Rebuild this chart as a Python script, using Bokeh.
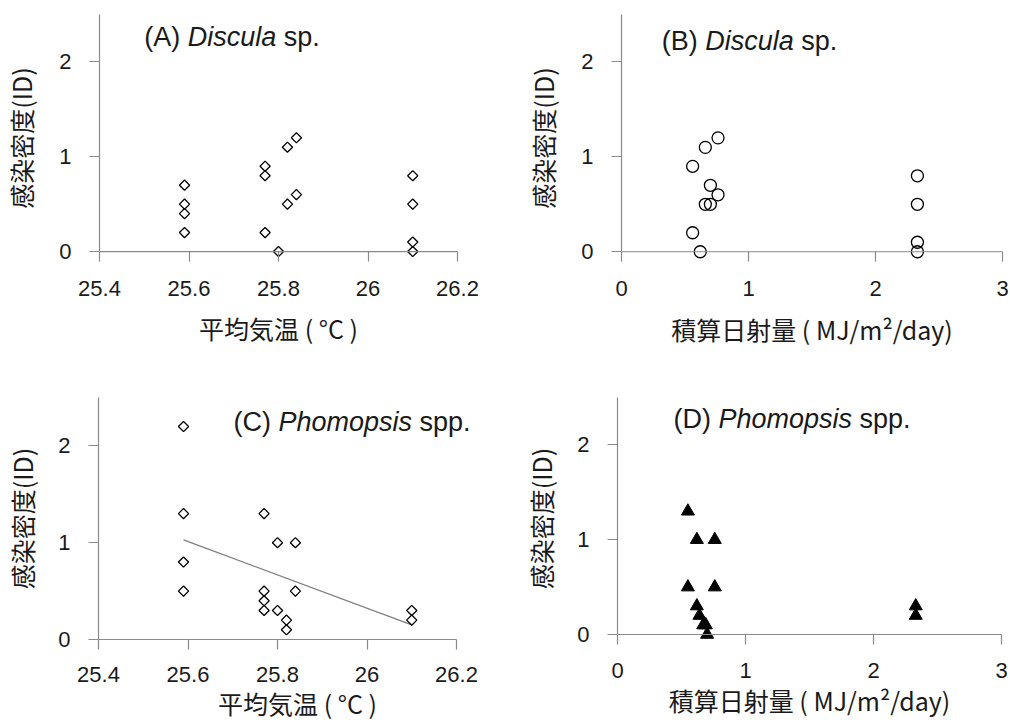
from bokeh.plotting import figure
from bokeh.layouts import row, column
from bokeh.models import Label, FixedTicker, NumeralTickFormatter, Range1d, Span
from bokeh.embed import file_html
from bokeh.resources import INLINE
import math

# ---------------- data ----------------
temp_ticks = [25.4, 25.6, 25.8, 26.0, 26.2]
rad_ticks = [0, 1, 2, 3]
id_ticks = [0, 1, 2]

# (A) Discula sp. vs mean temperature
temp_A = [25.59, 25.59, 25.59, 25.59, 25.77, 25.77, 25.77, 25.80,
          25.82, 25.82, 25.84, 25.84, 26.10, 26.10, 26.10, 26.10]
id_A = [0.7, 0.5, 0.4, 0.2, 0.9, 0.8, 0.2, 0.0,
        1.1, 0.5, 1.2, 0.6, 0.8, 0.5, 0.1, 0.0]

# (B) Discula sp. vs integrated solar radiation
rad_B = [0.56, 0.56, 0.62, 0.66, 0.66, 0.70, 0.70, 0.76, 0.76,
         2.33, 2.33, 2.33, 2.33]
id_B = [0.9, 0.2, 0.0, 1.1, 0.5, 0.7, 0.5, 1.2, 0.6,
        0.8, 0.5, 0.1, 0.0]

# (C) Phomopsis spp. vs mean temperature
temp_C = [25.59, 25.59, 25.59, 25.59, 25.77, 25.77, 25.77, 25.77,
          25.80, 25.80, 25.82, 25.82, 25.84, 25.84, 26.10, 26.10]
id_C = [2.2, 1.3, 0.8, 0.5, 1.3, 0.5, 0.4, 0.3,
        1.0, 0.3, 0.2, 0.1, 1.0, 0.5, 0.3, 0.2]
trend_C_x = [25.59, 26.10]
trend_C_y = [1.03, 0.15]

# (D) Phomopsis spp. vs integrated solar radiation
rad_D = [0.55, 0.62, 0.76, 0.55, 0.76, 0.62, 0.64, 0.67, 0.69, 0.70,
         2.33, 2.33]
id_D = [1.3, 1.0, 1.0, 0.5, 0.5, 0.3, 0.2, 0.1, 0.1, 0.0,
        0.3, 0.2]

y_label = "感染密度(ID)"
x_label_temp = "平均気温 ( °C )"
x_label_rad = "積算日射量 ( MJ/m²/day)"

# ---------------- styling helpers ----------------
AXIS_GREY = "#8a8a8a"
TEXT = "#1a1a1a"
TICK_FONT = "Liberation Sans"
LABEL_FONT = "Noto Sans CJK JP"
TICK_LEN = 10

# Arial / Liberation Sans advance widths (em) for title pieces
ADV = {"(": 0.333, ")": 0.333, " ": 0.278, "A": 0.667, "B": 0.667, "C": 0.722,
       "D": 0.722, "P": 0.667, "i": 0.222, "s": 0.5, "c": 0.5, "u": 0.556,
       "l": 0.222, "a": 0.556, "p": 0.556, ".": 0.278, "h": 0.556, "o": 0.556,
       "m": 0.833}


def text_w(t, size):
    return sum(ADV.get(ch, 0.556) for ch in t) * size


def make_fig(w, h, left, frame_w, top, frame_h, xr, axis_frame_w, yr,
             xticks, xlab, xfmt, tick_so_x, lab_so_x, lab_so_y, pad_px=0):
    # axis spans axis_frame_w x frame_h pixels; the plotting frame may be a
    # bit larger (wider to the right, pad_px below zero) so that titles and
    # markers sitting on the zero line are not clipped
    x0, x1 = xr
    y0, y1 = yr
    x_end = x0 + (x1 - x0) * frame_w / axis_frame_w
    y_start = y0 - (y1 - y0) * pad_px / frame_h
    p = figure(width=w, height=h, x_range=Range1d(x0, x_end),
               y_range=Range1d(y_start, y1),
               output_backend="svg", toolbar_location=None,
               min_border_left=left, min_border_right=w - left - frame_w,
               min_border_top=top,
               min_border_bottom=h - top - frame_h - pad_px)
    p.outline_line_color = None
    p.background_fill_color = "white"
    p.border_fill_color = "white"
    p.xgrid.visible = False
    p.ygrid.visible = False
    for ax in (p.xaxis[0], p.yaxis[0]):
        ax.axis_line_color = AXIS_GREY
        ax.axis_line_width = 1.2
        ax.major_tick_line_color = AXIS_GREY
        ax.major_tick_line_width = 1.2
        ax.major_tick_out = TICK_LEN
        ax.major_tick_in = 0
        ax.minor_tick_line_color = None
        ax.major_label_text_font = TICK_FONT
        ax.major_label_text_font_size = "22px"
        ax.major_label_text_color = TEXT
        ax.axis_label_text_font = LABEL_FONT
        ax.axis_label_text_font_size = "25px"
        ax.axis_label_text_font_style = "normal"
        ax.axis_label_text_color = TEXT
    xa = p.xaxis[0]
    if pad_px:
        # zero line is drawn as a span; ticks hang from it down to the frame edge
        xa.axis_line_color = None
        xa.major_tick_in = pad_px
        xa.major_tick_out = TICK_LEN - pad_px
        p.add_layout(Span(location=y0, dimension="width",
                          line_color=AXIS_GREY, line_width=1.2))
    xa.bounds = (x0, x1)
    xa.ticker = FixedTicker(ticks=xticks)
    xa.formatter = NumeralTickFormatter(format=xfmt)
    xa.axis_label = xlab
    xa.major_label_standoff = tick_so_x
    xa.axis_label_standoff = lab_so_x
    ya = p.yaxis[0]
    ya.bounds = (y0, y1)
    ya.ticker = FixedTicker(ticks=id_ticks)
    ya.formatter = NumeralTickFormatter(format="0")
    ya.axis_label = y_label
    ya.major_label_standoff = 18
    ya.axis_label_standoff = lab_so_y
    return p


def add_title(p, letter, genus, suffix, x0, ytop, dx, dy, size=27):
    fs = f"{size}px"
    space = text_w(" ", size)
    parts = [(f"({letter})", "normal"), (genus, "italic"), (suffix, "normal")]
    off = dx
    for txt, style in parts:
        p.add_layout(Label(x=x0, y=ytop, x_offset=off, y_offset=-dy, text=txt,
                           text_font=TICK_FONT, text_font_size=fs,
                           text_font_style=style, text_color=TEXT,
                           text_baseline="alphabetic", text_align="left"))
        off += text_w(txt, size) + space


# ---------------- panel A ----------------
pA = make_fig(500, 370, 96, 361, 14, 238, (25.4, 26.2), 361, (0, 2.5),
              temp_ticks, x_label_temp, "0.[0]", 19, 11, 17, pad_px=10)
pA.scatter(temp_A, id_A, marker="square", angle=math.pi / 4, size=7.2,
           fill_color=None, line_color="black", line_width=1.3)
add_title(pA, "A", "Discula", "sp.", 25.4, 2.5, 44.7, 22.7)

# ---------------- panel B ----------------
pB = make_fig(510, 370, 121, 381, 8, 243, (0, 3), 381, (0, 2.5),
              rad_ticks, x_label_rad, "0", 19, 12, 17, pad_px=10)
pB.scatter(rad_B, id_B, marker="circle", size=12,
           fill_color=None, line_color="black", line_width=1.3)
add_title(pB, "B", "Discula", "sp.", 0, 2.5, 40.3, 26)

# ---------------- panel C ----------------
pC = make_fig(500, 355, 98, 398, 18, 251, (25.4, 26.2), 358, (0, 2.5),
              temp_ticks, x_label_temp, "0.[0]", 17, 0, 15)
pC.line(trend_C_x, trend_C_y, line_color="#7f7f7f", line_width=1.3)
pC.scatter(temp_C, id_C, marker="square", angle=math.pi / 4, size=7.2,
           fill_color=None, line_color="black", line_width=1.3)
add_title(pC, "C", "Phomopsis", "spp.", 25.4, 2.5, 135, 24)

# ---------------- panel D ----------------
pD = make_fig(510, 355, 117, 384, 27, 238, (0, 3), 384, (0, 2.5),
              rad_ticks, x_label_rad, "0", 18, 1, 15, pad_px=5)
pD.scatter(rad_D, id_D, marker="triangle", size=13,
           fill_color="black", line_color="black", line_width=1)
add_title(pD, "D", "Phomopsis", "spp.", 0, 2.5, 56, 21)

layout = column(row(pA, pB), row(pC, pD))

open("out.html", "w").write(file_html(layout, INLINE))
